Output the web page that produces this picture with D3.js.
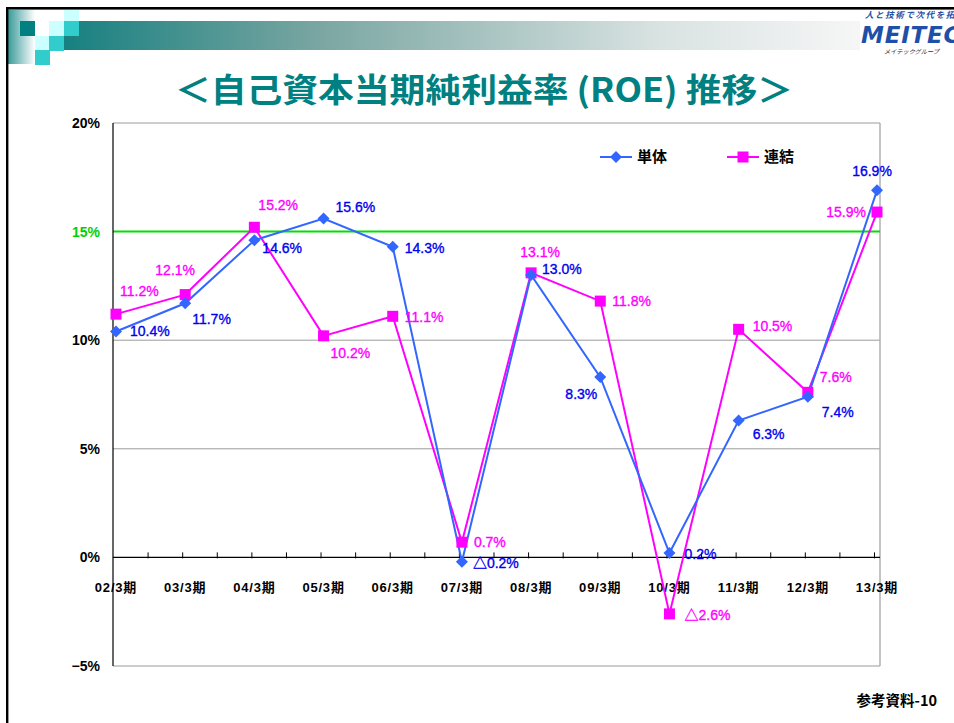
<!DOCTYPE html>
<html><head><meta charset="utf-8">
<script src="https://cdn.jsdelivr.net/npm/d3@7"></script>
<style>html,body{margin:0;padding:0;background:#fff;overflow:hidden}svg{display:block}</style>
</head><body>
<script>
// ---- data ----
const categories = ["02/3期","03/3期","04/3期","05/3期","06/3期","07/3期","08/3期","09/3期","10/3期","11/3期","12/3期","13/3期"];
const tanTai = [10.4, 11.7, 14.6, 15.6, 14.3, -0.2, 13.0, 8.3, 0.2, 6.3, 7.4, 16.9];   // 単体
const renketsu = [11.2, 12.1, 15.2, 10.2, 11.1, 0.7, 13.1, 11.8, -2.6, 10.5, 7.6, 15.9]; // 連結
const seriesNames = ["単体", "連結"];
const yTicks = [-5, 0, 5, 10, 15, 20];
const targetLine = 15;
const titleText = "＜自己資本当期純利益率 (ROE) 推移＞";
const footerText = "参考資料-10";

// ---- layout config (label placement: [anchor, dx, dy-from-point-center]) ----
const blueLabelPos = [["start",14,-1],["start",7,16],["start",8,8],["start",12,-12],["start",12,1],["start",11,1],
  ["start",11,-6],["end",-3,17],["start",15,1],["start",14,13],["start",14,15],["middle",-5,-19]];
const pinkLabelPos = [["start",4,-23],["middle",-10,-25],["start",4,-22],["start",7,17],["start",12,1],["start",12,0],
  ["middle",9,-21],["start",12,0],["start",15,1],["start",14,-3],["start",12,-15],["end",-11,0]];

const W = 954, H = 723;
const svg = d3.select("body").append("svg").attr("width", W).attr("height", H);
const defs = svg.append("defs");

// ---- header decoration ----
const g1 = defs.append("linearGradient").attr("id","lg1");
g1.append("stop").attr("offset",0).attr("stop-color","#3a9a9a");
g1.append("stop").attr("offset",1).attr("stop-color","#ffffff");
const g2 = defs.append("linearGradient").attr("id","lg2");
g2.append("stop").attr("offset",0).attr("stop-color","#178080");
g2.append("stop").attr("offset",0.32).attr("stop-color","#7aa6a2");
g2.append("stop").attr("offset",0.75).attr("stop-color","#d9e3e2");
g2.append("stop").attr("offset",1).attr("stop-color","#f6f6f6");

svg.append("rect").attr("x",8).attr("y",10).attr("width",27).attr("height",54).attr("fill","url(#lg1)");
svg.append("rect").attr("x",64).attr("y",21).attr("width",796).attr("height",29).attr("fill","url(#lg2)");
const sq = [[20,21,"#008080"],[49,21,"#ccffff"],[64,10,"#ccffff",11],[64,21,"#33cccc"],
  [35,36,"#ccffff"],[49,36,"#33cccc"],[35,50,"#33cccc"]];
sq.forEach(s => svg.append("rect").attr("x",s[0]).attr("y",s[1]).attr("width",15).attr("height",s[3]||15).attr("fill",s[2]));

// frame
svg.append("rect").attr("x",6).attr("y",7).attr("width",W-6).attr("height",2.6).attr("fill","#000");
svg.append("rect").attr("x",6).attr("y",7).attr("width",2.4).attr("height",H-7).attr("fill","#000");

// logo
svg.append("text").attr("x",865).attr("y",18).attr("font-family","Noto Sans CJK JP").attr("font-size",8.5)
  .attr("font-style","italic").attr("font-weight","bold").attr("fill","#1f50a8").attr("letter-spacing",1.6).text("人と技術で次代を拓く");
svg.append("text").attr("x",861).attr("y",43).attr("font-family","DejaVu Sans").attr("font-size",23)
  .attr("font-style","italic").attr("font-weight","bold").attr("fill","#1f50a8").attr("letter-spacing",0.8).text("MEITEC");
svg.append("text").attr("x",884).attr("y",54).attr("font-family","Noto Sans CJK JP").attr("font-size",6.2)
  .attr("font-style","italic").attr("fill","#333").text("メイテックグループ");

// title
svg.append("text").attr("x",175).attr("y",102).attr("font-family","'Noto Sans CJK JP'").attr("font-weight","bold")
  .attr("font-size",33).attr("fill","#008080").attr("textLength",618).attr("lengthAdjust","spacingAndGlyphs").text(titleText);

// footer
svg.append("text").attr("x",937).attr("y",706).attr("text-anchor","end").attr("font-family","'Noto Sans CJK JP'")
  .attr("font-weight","bold").attr("font-size",14.5).attr("fill","#000").text(footerText);

// ---- scales ----
const x = d3.scaleLinear().domain([0, categories.length-1]).range([116, 877]);
const y = d3.scaleLinear().domain([-5, 20]).range([666, 123]);
const left = 113, right = 880;

// gridlines
const plot = svg.append("g");
yTicks.filter(t => t !== 0 && t !== targetLine).forEach(t => {
  plot.append("line").attr("x1",left).attr("x2",right).attr("y1",y(t)).attr("y2",y(t)).attr("stroke","#9a9a9a").attr("stroke-width",1);
});
plot.append("line").attr("x1",right).attr("x2",right).attr("y1",y(20)).attr("y2",y(-5)).attr("stroke","#b0b0b0").attr("stroke-width",1.5);
plot.append("line").attr("x1",left).attr("x2",right).attr("y1",y(targetLine)).attr("y2",y(targetLine)).attr("stroke","#00e000").attr("stroke-width",2);
// y axis
plot.append("line").attr("x1",left).attr("x2",left).attr("y1",y(20)).attr("y2",y(-5)).attr("stroke","#000").attr("stroke-width",1.2);
// x axis at 0
plot.append("line").attr("x1",left).attr("x2",right).attr("y1",y(0)).attr("y2",y(0)).attr("stroke","#000").attr("stroke-width",1.2);
const tickScale = d3.scaleLinear().domain([0, 2*(categories.length-1)]).range([x(0)-2.5, x(categories.length-1)-2.5]);
d3.range(1, 2*(categories.length-1)+1).forEach(k => {
  plot.append("line").attr("x1",tickScale(k)).attr("x2",tickScale(k)).attr("y1",y(0)-5).attr("y2",y(0)+1).attr("stroke","#000").attr("stroke-width",1);
});

// y tick labels
yTicks.forEach(t => {
  plot.append("text").attr("x",100).attr("y",y(t)).attr("dy","0.36em").attr("text-anchor","end")
    .attr("font-family","'Liberation Sans','Noto Sans CJK JP'").attr("font-weight","bold").attr("font-size",14)
    .attr("fill", t === targetLine ? "#00d000" : "#000").text((t<0?"−":"") + Math.abs(t) + "%");
});
// x labels
categories.forEach((c,i) => {
  plot.append("text").attr("x",x(i)).attr("y",592).attr("text-anchor","middle")
    .attr("font-family","'Liberation Sans','Noto Sans CJK JP'").attr("font-weight","bold").attr("font-size",13)
    .attr("letter-spacing",0.8).attr("fill","#000").text(c);
});

// ---- series ----
const line = d3.line().x((d,i) => x(i)).y(d => y(d));
plot.append("path").datum(renketsu).attr("d",line).attr("fill","none").attr("stroke","#ff00ff").attr("stroke-width",2);
plot.append("path").datum(tanTai).attr("d",line).attr("fill","none").attr("stroke","#3366ff").attr("stroke-width",2);

const diamondPath = d3.symbol().type(d3.symbolSquare).size(72)();
plot.selectAll(".sq").data(renketsu).enter().append("rect")
  .attr("x",(d,i)=>x(i)-5.5).attr("y",d=>y(d)-5.5).attr("width",11).attr("height",11).attr("fill","#ff00ff");
plot.selectAll(".dm").data(tanTai).enter().append("path")
  .attr("transform",(d,i)=>`translate(${x(i)},${y(d)}) rotate(45)`)
  .attr("d", diamondPath).attr("fill","#3366ff");

function fmt(v){ return (v < 0 ? "△" : "") + Math.abs(v).toFixed(1) + "%"; }
function labels(data, pos, color){
  data.forEach((v,i) => {
    const p = pos[i];
    plot.append("text").attr("x", x(i)+p[1]).attr("y", y(v)+p[2]).attr("dy","0.36em").attr("text-anchor",p[0])
      .attr("font-family","'Liberation Sans','Noto Sans CJK JP'").attr("font-size",14)
      .attr("fill",color).attr("stroke",color).attr("stroke-width",0.35).text(fmt(v));
  });
}
labels(renketsu, pinkLabelPos, "#ff00ff");
labels(tanTai, blueLabelPos, "#0000ee");

// ---- legend ----
const leg = svg.append("g");
[[600, "#3366ff", "dm", seriesNames[0]], [727, "#ff00ff", "sq", seriesNames[1]]].forEach(l => {
  leg.append("line").attr("x1",l[0]).attr("x2",l[0]+32).attr("y1",157).attr("y2",157).attr("stroke",l[1]).attr("stroke-width",2);
  if (l[2]==="dm") leg.append("path").attr("transform",`translate(${l[0]+16},157) rotate(45)`).attr("d",diamondPath).attr("fill",l[1]);
  else leg.append("rect").attr("x",l[0]+10.5).attr("y",151.5).attr("width",11).attr("height",11).attr("fill",l[1]);
  leg.append("text").attr("x",l[0]+37).attr("y",157).attr("dy","0.36em").attr("font-family","'Noto Sans CJK JP'")
    .attr("font-weight","bold").attr("font-size",15).attr("fill","#000").text(l[3]);
});
</script>
</body></html>
